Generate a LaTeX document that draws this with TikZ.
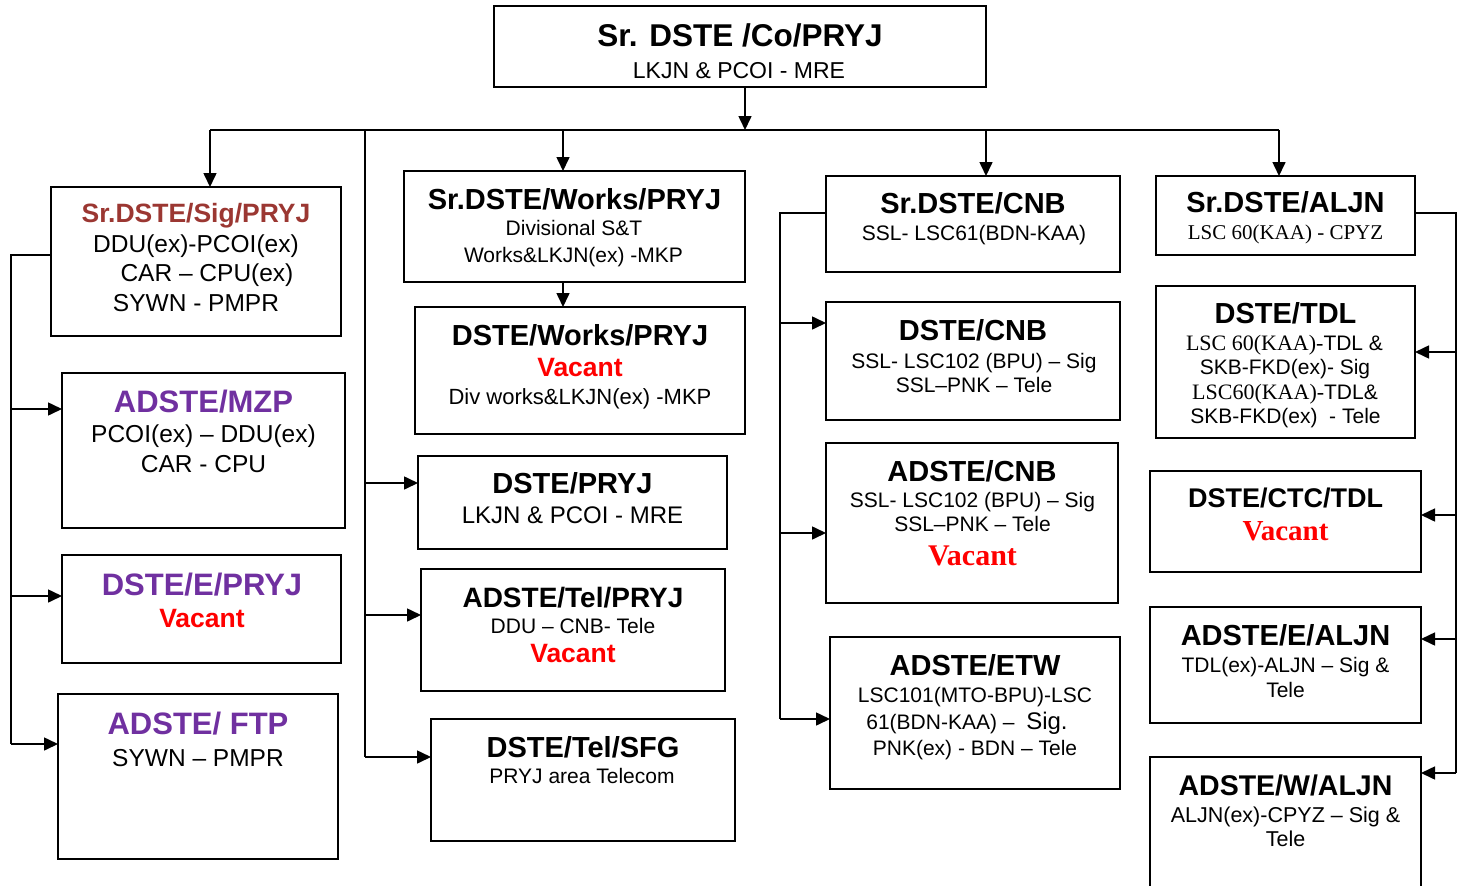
\documentclass[tikz,border=0pt]{standalone}
\usepackage{fontspec}
\setmainfont{Liberation Sans}
\newfontfamily\tnr{Liberation Serif}
\usetikzlibrary{arrows.meta}
\definecolor{brn}{RGB}{155,55,50}
\definecolor{pur}{RGB}{112,48,160}
\definecolor{vred}{RGB}{255,0,0}
\newcommand\fs[1]{\fontsize{#1}{#1}\selectfont}
\newcommand\mybox[5]{\node[box,minimum width={#4pt-#2pt},minimum height={#5pt-#3pt}] (#1) at ({(#2+#4)/2},{(#3+#5)/2}) {};}
\newcommand\tx[5]{\node[txt,#4] (#1) at (#2,#3) {#5};}
\begin{document}
\begin{tikzpicture}[x=1pt,y=-1pt,
  box/.style={draw,line width=2pt,inner sep=0pt,outer sep=0pt},
  txt/.style={anchor=base,inner sep=0pt},
  ttl/.style={font=\bfseries\fs{29}},
  sub/.style={font=\fs{21}},
  lft/.style={font=\fs{24.5}},
  ptl/.style={font=\bfseries\fs{31},text=pur},
  vac/.style={font=\bfseries\fs{26.5},text=vred},
  vacs/.style={font=\tnr\bfseries\fs{30},text=vred},
  arr/.style={-{Triangle[length=14pt,width=13pt]},line width=1.6pt},
  ln/.style={line width=1.6pt}]
\useasboundingbox (0,0) rectangle (1462,886);
\clip (0,0) rectangle (1462,886);
% ---------- boxes ----------
\mybox{top}{494}{6}{986}{87}
\mybox{sig}{51}{187}{341}{336}
\mybox{mzp}{62}{373}{345}{528}
\mybox{epryj}{62}{555}{341}{663}
\mybox{ftp}{58}{694}{338}{859}
\mybox{works}{404}{171}{745}{282}
\mybox{dworks}{415}{307}{745}{434}
\mybox{dpryj}{418}{456}{727}{549}
\mybox{telpryj}{421}{569}{725}{691}
\mybox{sfg}{431}{719}{735}{841}
\mybox{srcnb}{826}{176}{1120}{272}
\mybox{dcnb}{826}{302}{1120}{420}
\mybox{adcnb}{826}{443}{1118}{603}
\mybox{etw}{830}{637}{1120}{789}
\mybox{sraljn}{1156}{176}{1415}{255}
\mybox{tdl}{1156}{286}{1415}{438}
\mybox{ctc}{1150}{471}{1421}{572}
\mybox{ealjn}{1150}{607}{1421}{723}
\mybox{waljn}{1150}{757}{1421}{905}
% ---------- texts ----------
\tx{top-t}{740}{46}{font=\bfseries\fs{31.5}}{Sr. DSTE /Co/PRYJ}
\tx{top-s}{739}{78}{font=\fs{23}}{LKJN \& PCOI - MRE}
\tx{sig-t}{196}{222}{font=\bfseries\fs{26.5},text=brn}{Sr.DSTE/Sig/PRYJ}
\tx{sig-1}{196}{252}{lft}{DDU(ex)-PCOI(ex)}
\tx{sig-2}{207}{281}{lft}{CAR – CPU(ex)}
\tx{sig-3}{196}{311}{lft}{SYWN - PMPR}
\tx{mzp-t}{203.5}{412}{ptl}{ADSTE/MZP}
\tx{mzp-1}{203.5}{442}{lft}{PCOI(ex) – DDU(ex)}
\tx{mzp-2}{203.5}{472}{lft}{CAR - CPU}
\tx{epryj-t}{202}{595}{ptl}{DSTE/E/PRYJ}
\tx{epryj-1}{202}{627}{vac}{Vacant}
\tx{ftp-t}{198}{734}{ptl}{ADSTE/ FTP}
\tx{ftp-1}{198}{766}{lft}{SYWN – PMPR}
\tx{works-t}{574.5}{209}{ttl}{Sr.DSTE/Works/PRYJ}
\tx{works-1}{574}{235}{sub}{Divisional S\&T}
\tx{works-2}{573.5}{262}{sub}{Works\&LKJN(ex) -MKP}
\tx{dworks-t}{580}{345}{ttl}{DSTE/Works/PRYJ}
\tx{dworks-1}{580}{376}{vac}{Vacant}
\tx{dworks-2}{580}{404}{font=\fs{22}}{Div works\&LKJN(ex) -MKP}
\tx{dpryj-t}{572.5}{493}{ttl}{DSTE/PRYJ}
\tx{dpryj-1}{572.5}{523}{font=\fs{24}}{LKJN \& PCOI - MRE}
\tx{telpryj-t}{573}{607}{font=\bfseries\fs{28}}{ADSTE/Tel/PRYJ}
\tx{telpryj-1}{573}{633}{sub}{DDU – CNB- Tele}
\tx{telpryj-2}{573}{662}{vac}{Vacant}
\tx{sfg-t}{583}{757}{ttl}{DSTE/Tel/SFG}
\tx{sfg-1}{582}{783}{sub}{PRYJ area Telecom}
\tx{srcnb-t}{973}{213}{ttl}{Sr.DSTE/CNB}
\tx{srcnb-1}{974}{240}{sub}{SSL- LSC61(BDN-KAA)}
\tx{dcnb-t}{973}{340}{ttl}{DSTE/CNB}
\tx{dcnb-1}{974}{368}{sub}{SSL- LSC102 (BPU) – Sig}
\tx{dcnb-2}{974}{392}{sub}{SSL–PNK – Tele}
\tx{adcnb-t}{972}{481}{ttl}{ADSTE/CNB}
\tx{adcnb-1}{972.5}{507}{sub}{SSL- LSC102 (BPU) – Sig}
\tx{adcnb-2}{972.5}{531}{sub}{SSL–PNK – Tele}
\tx{adcnb-3}{972.5}{565}{vacs}{Vacant}
\tx{etw-t}{975}{675}{ttl}{ADSTE/ETW}
\tx{etw-1}{975}{702}{sub}{LSC101(MTO-BPU)-LSC}
\tx{etw-2}{967}{729}{sub}{61(BDN-KAA) –\ \ {\fs{24}Sig.}}
\tx{etw-3}{975}{755}{sub}{PNK(ex) - BDN – Tele}
\tx{sraljn-t}{1285.5}{212}{ttl}{Sr.DSTE/ALJN}
\tx{sraljn-1}{1285.5}{239}{font=\tnr\fs{21}}{LSC 60(KAA) - CPYZ}
\tx{tdl-t}{1285.5}{323}{ttl}{DSTE/TDL}
\tx{tdl-1}{1284.5}{350}{sub}{{\tnr\fs{22}LSC 60(KAA)-}TDL \&}
\tx{tdl-2}{1285}{374}{sub}{SKB-FKD(ex)- Sig}
\tx{tdl-3}{1285}{399}{sub}{{\tnr\fs{22}LSC60(KAA)-}TDL\&}
\tx{tdl-4}{1285.5}{423}{sub}{SKB-FKD(ex)\ \ - Tele}
\tx{ctc-t}{1285.5}{507}{font=\bfseries\fs{27}}{DSTE/CTC/TDL}
\tx{ctc-1}{1285.5}{540}{font=\tnr\bfseries\fs{29},text=vred}{Vacant}
\tx{ealjn-t}{1285.5}{645}{ttl}{ADSTE/E/ALJN}
\tx{ealjn-1}{1285.5}{672}{sub}{TDL(ex)-ALJN – Sig \&}
\tx{ealjn-2}{1285.5}{697}{sub}{Tele}
\tx{waljn-t}{1285.5}{795}{font=\bfseries\fs{28.5}}{ADSTE/W/ALJN}
\tx{waljn-1}{1285.5}{822}{font=\fs{21.5}}{ALJN(ex)-CPYZ – Sig \&}
\tx{waljn-2}{1285.5}{846}{font=\fs{21.5}}{Tele}
% ---------- connectors ----------
\coordinate (busL) at (210,130);
\coordinate (busR) at (1279,130);
\coordinate (bM) at (365,130);
\coordinate (bW) at (563,130);
\coordinate (bC) at (986,130);
\coordinate (bT) at (745,130);
\draw[arr] (top.south -| bT) -- (bT);
\draw[ln] (busL) -- (busR);
\draw[arr] (busL) -- (busL |- sig.north);
\draw[arr] (bW) -- (bW |- works.north);
\draw[arr] (bC) -- (bC |- srcnb.north);
\draw[arr] (busR) -- (busR |- sraljn.north);
% middle spine
\coordinate (mE) at (365,757);
\draw[ln] (bM) -- (mE);
\draw[arr] (365,483) -- (dpryj.west |- 0,483);
\draw[arr] (365,615) -- (telpryj.west |- 0,615);
\draw[arr] (mE) -- (sfg.west |- mE);
\draw[arr] (works.south -| bW) -- (dworks.north -| bW);
% left spine
\coordinate (lS) at (11,255);
\coordinate (lE) at (11,744);
\draw[ln] (sig.west |- lS) -- (lS) -- (lE);
\draw[arr] (11,409) -- (mzp.west |- 0,409);
\draw[arr] (11,596) -- (epryj.west |- 0,596);
\draw[arr] (lE) -- (ftp.west |- lE);
% CNB spine
\coordinate (cS) at (780,213);
\coordinate (cE) at (780,719);
\draw[ln] (srcnb.west |- cS) -- (cS) -- (cE);
\draw[arr] (780,323) -- (dcnb.west |- 0,323);
\draw[arr] (780,533) -- (adcnb.west |- 0,533);
\draw[arr] (cE) -- (etw.west |- cE);
% ALJN spine
\coordinate (aS) at (1456,213);
\coordinate (aE) at (1456,773);
\draw[ln] (sraljn.east |- aS) -- (aS) -- (aE);
\draw[arr] (1456,352) -- (tdl.east |- 0,352);
\draw[arr] (1456,515) -- (ctc.east |- 0,515);
\draw[arr] (1456,639) -- (ealjn.east |- 0,639);
\draw[arr] (aE) -- (waljn.east |- aE);
\end{tikzpicture}
\end{document}
